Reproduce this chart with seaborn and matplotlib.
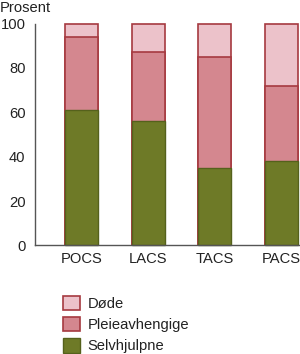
import matplotlib
matplotlib.use("Agg")
import matplotlib.pyplot as plt
import seaborn as sns
import pandas as pd
from matplotlib.patches import Patch

# Data
groups = ['POCS', 'LACS', 'TACS', 'PACS']
selvhjulpne = [61, 56, 35, 38]
pleieavhengige = [33, 31, 50, 34]
dode = [6, 13, 15, 28]

df = pd.DataFrame({'gruppe': groups,
                   'Selvhjulpne': selvhjulpne,
                   'Pleieavhengige': pleieavhengige,
                   'Døde': dode})
df['pleie_top'] = df['Selvhjulpne'] + df['Pleieavhengige']
df['total'] = df['pleie_top'] + df['Døde']

sns.set_style('white')
plt.rcParams['font.family'] = ['Liberation Sans', 'DejaVu Sans']

c_green, c_pleie, c_dode = '#6e7a27', '#d4878f', '#ecc2ca'
e_red, e_green = '#a63a40', '#55611c'
fs = 10.6

fig = plt.figure(figsize=(3.0, 3.54), dpi=100)
ax = fig.add_axes([0.117, 0.3065, 0.878, 0.627])

sns.barplot(data=df, x='gruppe', y='total', color=c_dode, width=0.5,
            edgecolor=e_red, linewidth=1.2, saturation=1, ax=ax)
sns.barplot(data=df, x='gruppe', y='pleie_top', color=c_pleie, width=0.5,
            edgecolor=e_red, linewidth=1.2, saturation=1, ax=ax)
sns.barplot(data=df, x='gruppe', y='Selvhjulpne', color=c_green, width=0.5,
            edgecolor=e_green, linewidth=1.0, saturation=1, ax=ax)
for p in ax.patches:
    p.set_clip_on(False)

ax.set_xlim(-0.7, 3.26)
ax.set_ylim(0, 100)
ax.set_yticks([0, 20, 40, 60, 80, 100])
ax.set_xlabel('')
ax.set_ylabel('')
sns.despine(ax=ax, top=True, right=True)
for s in ['left', 'bottom']:
    ax.spines[s].set_color('#555555')
    ax.spines[s].set_linewidth(1.0)
ax.tick_params(axis='y', length=6, width=1.0, color='#555555', pad=1,
               labelsize=fs, labelcolor='#222222')
ax.tick_params(axis='x', length=0, pad=5, labelsize=fs, labelcolor='#222222')

fig.text(0.0, 0.997, 'Prosent', fontsize=fs, color='#222222', va='top', ha='left')

handles = [Patch(facecolor=c_dode, edgecolor=e_red, linewidth=1.2, label='Døde'),
           Patch(facecolor=c_pleie, edgecolor=e_red, linewidth=1.2, label='Pleieavhengige'),
           Patch(facecolor=c_green, edgecolor=e_green, linewidth=1.0, label='Selvhjulpne')]
fig.legend(handles=handles, loc='upper left', bbox_to_anchor=(0.21, 0.165),
           frameon=False, fontsize=fs, handlelength=1.15, handleheight=1.15,
           handletextpad=0.5, labelspacing=0.4, borderaxespad=0, borderpad=0,
           labelcolor='#222222')

fig.savefig('out.png', dpi=100)
